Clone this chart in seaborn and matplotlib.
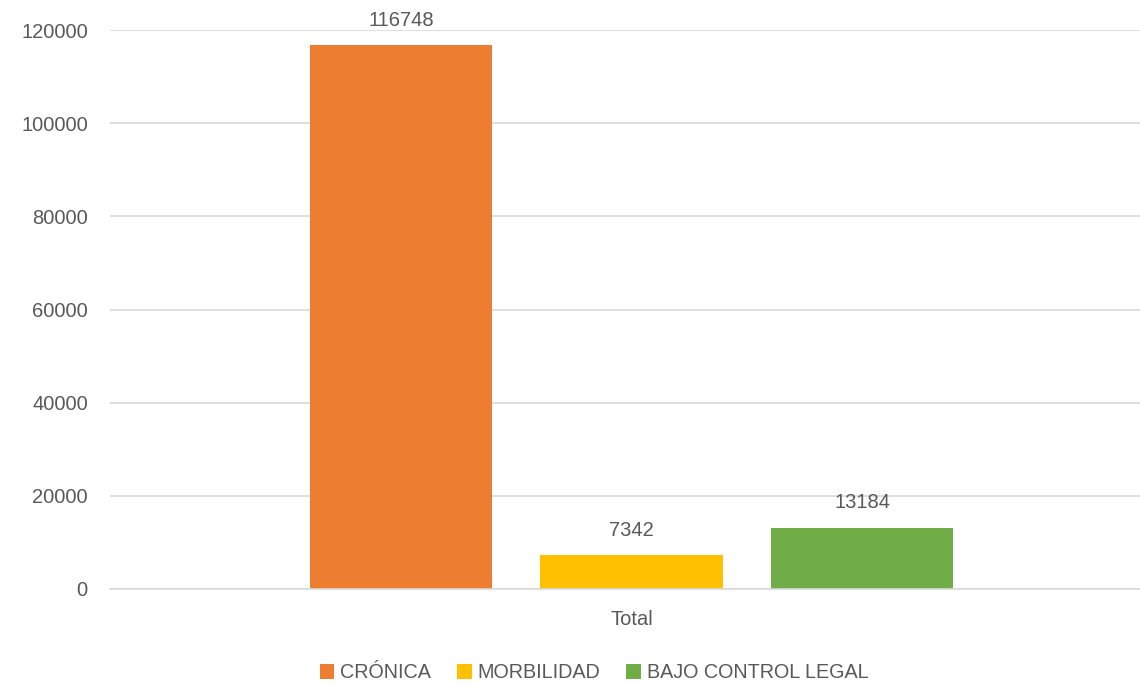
import matplotlib
matplotlib.use("Agg")
import matplotlib.pyplot as plt
import seaborn as sns
import pandas as pd

categories = ["Total"]
series = ["CRÓNICA", "MORBILIDAD", "BAJO CONTROL LEGAL"]
values = [116748, 7342, 13184]
colors = ["#ED7D31", "#FFC000", "#70AD47"]
yticks = [0, 20000, 40000, 60000, 80000, 100000, 120000]

df = pd.DataFrame({"cat": categories * len(series), "serie": series, "valor": values})

sns.set_theme(style="white")
plt.rcParams["font.family"] = ["Liberation Sans", "DejaVu Sans"]
txt = "#595959"

fig = plt.figure(figsize=(11.4, 6.85), dpi=100)
W, H = 1140, 685
ax = fig.add_axes([110 / W, 1 - 589 / H, 1043 / W, 559 / H])

sns.barplot(data=df, x="cat", y="valor", hue="serie", hue_order=series,
            palette=colors, width=0.663, gap=0.21, saturation=1, ax=ax,
            legend=True, errorbar=None, linewidth=0)

ax.set_ylim(0, 120000)
ax.set_xlim(-0.5, 0.5)
ax.set_yticks(yticks)
ax.set_yticklabels([str(v) for v in yticks])
ax.yaxis.grid(True, color="#D9D9D9", linewidth=1.2)
ax.set_axisbelow(True)
for s in ["top", "right", "left"]:
    ax.spines[s].set_visible(False)
ax.spines["bottom"].set_color("#D9D9D9")
ax.spines["bottom"].set_linewidth(1.2)
ax.tick_params(axis="y", length=0, pad=16, labelsize=14.5, labelcolor=txt)
ax.tick_params(axis="x", length=0, pad=15, labelsize=14.5, labelcolor=txt)
ax.set_xlabel("")
ax.set_ylabel("")

for cont in ax.containers:
    ax.bar_label(cont, fmt="%d", padding=11, fontsize=14.5, color=txt)

handles, labels = ax.get_legend_handles_labels()
ax.get_legend().remove()
leg = fig.legend(handles, labels, loc="center", bbox_to_anchor=(594 / W, 1 - 673 / H),
                 ncol=3, frameon=False, fontsize=14.2, handlelength=0.75,
                 handleheight=0.75, handletextpad=0.3, columnspacing=1.3)
for t in leg.get_texts():
    t.set_color(txt)

fig.savefig("out.png", dpi=100)
